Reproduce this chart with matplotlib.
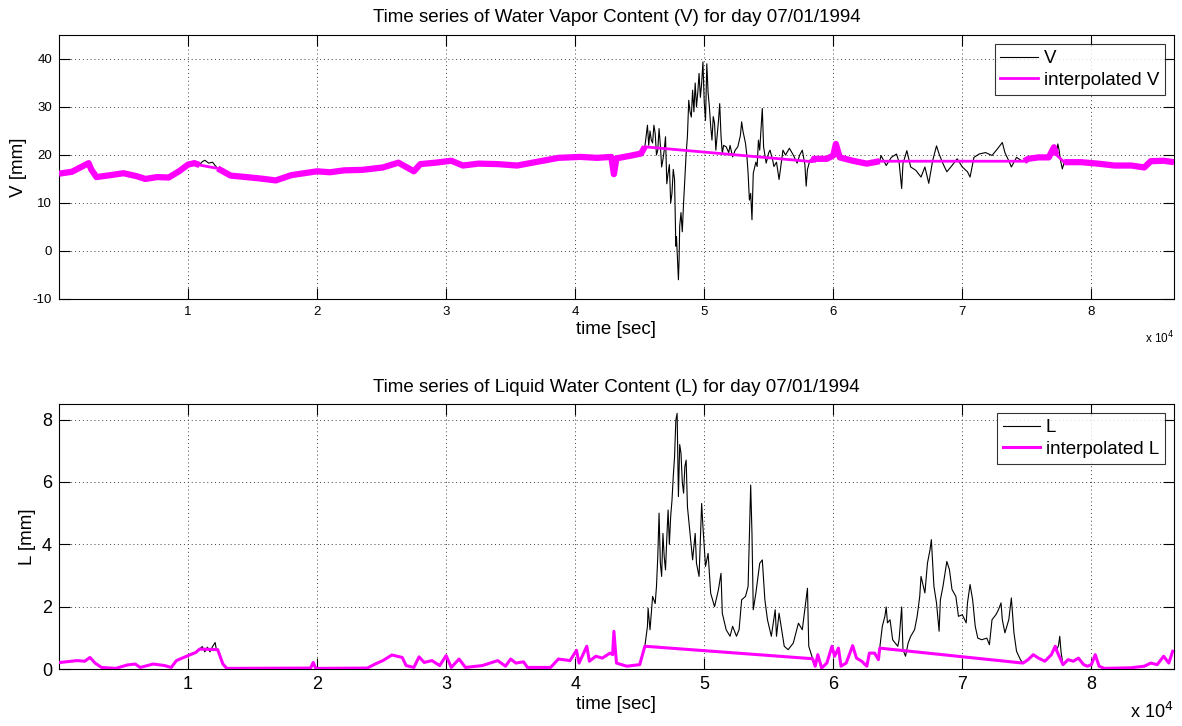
import numpy as np
import matplotlib
matplotlib.use("Agg")
import matplotlib.pyplot as plt
from matplotlib.ticker import FixedLocator, FuncFormatter

plt.rcParams['font.family'] = ['Liberation Sans', 'DejaVu Sans']
plt.rcParams['axes.unicode_minus'] = False

# ---- Water vapour content V [mm]; time in thousands of seconds ----
t_V = [0.0, 1.0, 2.3, 2.5, 2.9, 4.0, 5.0, 6.0, 6.7, 7.6, 8.5, 9.3, 10.0, 10.5, 10.9,
       11.1, 11.3, 11.6, 11.9, 12.1, 12.3,
       13.3, 14.5, 15.6, 16.8, 18.0, 19.0, 20.0, 21.0, 22.1, 23.5, 25.1, 26.3, 27.5,
       28.0, 29.2, 30.4, 31.3, 32.5, 34.0, 35.5, 36.9, 38.7, 40.4, 41.7, 42.8, 43.0,
       43.2, 44.2, 45.1,
       45.4, 45.5, 45.6, 45.7, 45.8, 45.9, 46.0, 46.1, 46.2, 46.3,
       46.4, 46.5, 46.6, 46.7, 46.8, 46.9, 47.0, 47.1, 47.2, 47.3,
       47.4, 47.5, 47.6, 47.7, 47.75, 47.8, 47.85, 47.9, 48.0, 48.05,
       48.1, 48.2, 48.3, 48.4, 48.5, 48.6, 48.7, 48.8, 48.9, 49.0,
       49.1, 49.2, 49.3, 49.4, 49.5, 49.6, 49.7, 49.8, 49.9, 50.0,
       50.1, 50.2, 50.3, 50.4, 50.5, 50.6, 50.7, 50.8, 50.9, 51.0,
       51.1, 51.2, 51.3, 51.4, 51.5, 51.7, 51.9, 52.0, 52.2, 52.4,
       52.6, 52.8, 52.9, 53.0, 53.2, 53.3, 53.4, 53.5, 53.6, 53.7,
       53.8, 54.0, 54.1, 54.2, 54.3, 54.4, 54.5, 54.6, 54.7, 54.8,
       55.0, 55.1, 55.3, 55.4, 55.6, 55.8, 56.0, 56.1, 56.3, 56.6,
       56.9, 57.2, 57.4, 57.6, 57.8, 57.9, 58.0, 58.2,
       58.4, 58.5, 59.5, 60.0, 60.2, 60.5, 61.5, 62.6, 63.6,
       63.7, 64.1, 64.5, 64.9, 65.1, 65.3, 65.4, 65.7, 66.0, 66.4, 66.8, 67.1, 67.4,
       67.7, 68.0, 68.2, 68.5, 68.8, 69.2, 69.6, 70.0, 70.4, 70.6, 70.9, 71.3, 71.8,
       72.3, 72.7, 73.1, 73.3, 73.6, 73.8, 74.2, 74.6,
       74.8, 75.1, 75.9, 76.7, 77.1, 77.3,
       77.4, 77.5, 77.6, 77.75,
       77.9, 79.2, 80.5, 81.8, 83.1, 84.1, 84.6, 85.6, 86.4]
V = [16.1, 16.5, 18.3, 17.0, 15.4, 15.8, 16.2, 15.6, 15.0, 15.4, 15.3, 16.6, 18.0, 18.3, 17.9,
     18.6, 18.9, 18.3, 18.5, 17.8, 17.2,
     15.7, 15.4, 15.1, 14.7, 15.8, 16.2, 16.6, 16.4, 16.8, 16.9, 17.4, 18.4, 16.6,
     18.1, 18.4, 18.8, 17.8, 18.2, 18.1, 17.8, 18.5, 19.4, 19.6, 19.4, 19.6, 16.0,
     19.3, 19.8, 20.3,
     21.7, 24.0, 26.2, 22.0, 25.0, 23.1, 22.5, 26.2, 24.5, 20.0,
     21.0, 25.5, 22.0, 17.5, 19.0, 21.0, 23.8, 14.0, 16.2, 18.0,
     10.0, 12.0, 17.0, 14.9, 8.0, 1.0, 3.0, 0.0, -6.0, -2.0,
     5.2, 8.0, 4.0, 10.0, 15.0, 20.3, 24.0, 31.4, 29.0, 27.9,
     33.5, 29.0, 35.0, 30.0, 33.0, 37.0, 32.0, 34.9, 39.4, 31.0,
     27.2, 39.0, 33.0, 30.0, 26.0, 23.1, 28.0, 26.6, 21.0, 24.0,
     27.0, 30.7, 24.0, 20.3, 22.0, 21.7, 20.5, 22.0, 19.6, 21.0,
     21.7, 24.0, 26.9, 25.0, 22.4, 20.0, 16.2, 10.6, 12.0, 6.5,
     16.2, 18.5, 17.6, 23.1, 21.0, 25.5, 29.7, 21.7, 20.0, 18.3,
     20.5, 21.0, 19.0, 17.6, 18.5, 14.9, 19.0, 21.0, 20.0, 21.4,
     20.0, 18.3, 20.0, 21.0, 18.0, 13.5, 17.0, 19.0,
     18.6, 19.2, 19.2, 19.9, 22.3, 19.5, 18.8, 18.2, 18.7,
     19.9, 17.8, 19.5, 20.2, 18.5, 13.0, 18.2, 20.9, 17.5, 16.8, 15.4, 17.5, 14.1,
     18.8, 21.9, 20.2, 18.2, 16.5, 17.8, 19.2, 17.5, 16.5, 15.4, 19.5, 20.2, 20.5,
     19.9, 21.2, 22.6, 20.5, 18.8, 17.5, 19.5, 18.8,
     18.7, 19.2, 19.5, 19.5, 21.6, 20.0,
     22.3, 21.0, 19.0, 17.1,
     18.5, 18.5, 18.2, 17.8, 17.8, 17.4, 18.7, 18.8, 18.5]
V_gaps = [(10.9, 12.3), (45.4, 58.4), (63.6, 74.8), (77.3, 77.9)]

# ---- Liquid water content L [mm]; time in thousands of seconds ----
t_L = [0.1, 1.4, 2.0, 2.4, 2.8, 3.3, 4.4, 5.3, 5.9, 6.3, 7.3, 8.2, 8.7, 9.1, 10.0, 10.6, 10.9,
       11.1, 11.3, 11.5, 11.7, 11.9, 12.1, 12.2, 12.3,
       12.7, 13.0, 19.5, 19.7, 19.9, 23.9, 24.5, 25.1, 25.8, 26.6, 26.9, 27.5, 27.9,
       28.3, 28.9, 29.5, 30.0, 30.4, 31.0, 31.5, 32.8, 34.0, 34.6, 35.0, 35.4, 36.0,
       36.3, 38.1, 38.7, 39.6, 40.1, 40.3, 40.9, 41.1, 41.6, 42.1, 42.7, 42.9, 43.0,
       43.2, 44.0, 45.0, 45.4,
       45.6, 45.65, 45.8, 46.0, 46.2, 46.3, 46.4, 46.5, 46.6, 46.7,
       46.8, 46.9, 47.0, 47.1, 47.2, 47.3, 47.4, 47.5, 47.6, 47.7,
       47.8, 47.9, 48.0, 48.1, 48.2, 48.3, 48.4, 48.5, 48.6, 48.7,
       48.9, 49.1, 49.3, 49.4, 49.6, 49.8, 49.9,
       50.1, 50.3, 50.5, 50.8, 51.1, 51.3, 51.4, 51.7, 52.0, 52.2, 52.5, 52.7, 52.9,
       53.2, 53.4, 53.6, 53.7, 53.8, 54.0, 54.3, 54.5, 54.7, 54.9, 55.2, 55.5, 55.6,
       55.8, 56.2, 56.5, 56.9, 57.3, 57.6, 58.0, 58.1,
       58.4, 58.6, 58.8, 59.1, 59.5, 59.9, 60.1, 60.4, 60.6, 61.0, 61.5, 61.8, 62.2,
       62.6, 62.8, 63.2, 63.5, 63.6,
       63.8, 64.0, 64.1, 64.2, 64.4, 64.6, 64.8, 65.0, 65.1, 65.3, 65.4, 65.6, 65.8,
       66.0, 66.3, 66.5, 66.7, 66.8, 67.1, 67.3, 67.5, 67.6, 67.8, 68.0, 68.2, 68.3,
       68.5, 68.8, 69.0, 69.2, 69.5, 69.7, 70.0, 70.3, 70.4, 70.6, 70.8, 71.0, 71.2,
       71.5, 71.9, 72.1, 72.3, 72.6, 72.8, 73.0, 73.1, 73.3, 73.6, 73.8, 74.0, 74.2,
       74.5,
       74.7, 75.1, 75.5, 75.9, 76.4, 76.9, 77.2, 77.3,
       77.45, 77.55, 77.65,
       77.8, 78.2, 78.6, 79.0, 79.4, 79.7, 80.0, 80.3, 80.6, 81.0, 83.1, 84.1, 84.6,
       85.1, 85.6, 86.0, 86.3]
L = [0.21, 0.27, 0.25, 0.37, 0.19, 0.05, 0.02, 0.13, 0.16, 0.05, 0.16, 0.11, 0.05, 0.27, 0.43, 0.53, 0.64,
     0.72, 0.55, 0.70, 0.55, 0.72, 0.85, 0.62, 0.62,
     0.16, 0.02, 0.03, 0.21, 0.02, 0.03, 0.16, 0.27, 0.45, 0.37, 0.11, 0.05, 0.39,
     0.21, 0.27, 0.11, 0.43, 0.05, 0.32, 0.05, 0.11, 0.27, 0.09, 0.32, 0.19, 0.23,
     0.05, 0.05, 0.32, 0.27, 0.60, 0.19, 0.73, 0.25, 0.41, 0.35, 0.51, 0.46, 1.21,
     0.19, 0.09, 0.14, 0.73,
     1.37, 1.95, 1.26, 2.33, 2.10, 2.65, 3.60, 5.00, 3.40, 2.97,
     4.35, 3.60, 3.18, 4.20, 5.10, 4.00, 4.89, 5.40, 6.17, 6.80,
     7.98, 8.20, 5.53, 7.20, 6.92, 6.00, 5.64, 6.50, 6.70, 5.20,
     4.35, 3.50, 4.35, 3.39, 2.97, 5.31, 4.57,
     3.29, 3.71, 2.43, 2.0, 2.54, 3.07, 1.79, 1.26, 1.05, 1.37, 1.05, 1.26, 2.22,
     2.33, 2.65, 5.9, 4.35, 1.9, 2.43, 3.39, 3.5, 2.22, 1.58, 1.05, 1.9, 1.05,
     1.79, 0.73, 0.62, 0.83, 1.47, 1.26, 2.59, 0.73,
     0.33, 0.09, 0.46, 0.03, 0.19, 0.73, 0.41, 0.67, 0.09, 0.19, 0.75, 0.35, 0.25,
     0.09, 0.51, 0.51, 0.30, 0.67,
     1.37, 1.69, 1.99, 1.48, 1.58, 0.94, 0.83, 0.73, 0.94, 1.99, 0.62, 0.41, 0.83,
     1.05, 1.26, 1.69, 2.33, 2.97, 2.44, 3.4, 3.83, 4.15, 2.65, 2.12, 1.21, 2.22,
     2.65, 3.45, 3.19, 2.55, 2.33, 1.69, 1.74, 1.48, 2.12, 2.71, 2.22, 1.37, 0.99,
     0.94, 0.99, 0.78, 1.58, 1.74, 1.9, 2.12, 1.58, 1.16, 1.58, 2.28, 1.16, 0.57,
     0.30,
     0.19, 0.30, 0.46, 0.35, 0.25, 0.46, 0.73, 0.60,
     0.75, 1.05, 0.55,
     0.14, 0.30, 0.25, 0.35, 0.14, 0.09, 0.14, 0.46, 0.09, 0.02, 0.04, 0.09, 0.19,
     0.14, 0.41, 0.19, 0.57]
L_gaps = [(10.9, 12.3), (45.4, 58.4), (63.6, 74.7), (77.3, 77.8)]

x_ticks = [10000, 20000, 30000, 40000, 50000, 60000, 70000, 80000]
V_ticks = [-10, 0, 10, 20, 30, 40]
L_ticks = [0, 2, 4, 6, 8]
DAY_END = 86400


def interpolate_gaps(t, y, gaps):
    """Drop samples inside the gaps; the line then bridges them linearly."""
    t = np.asarray(t) * 1e3
    y = np.asarray(y, float)
    bad = np.zeros(t.size, bool)
    for a, b in gaps:
        bad |= (t > a * 1e3) & (t < b * 1e3)
    return t, y, t[~bad], y[~bad]


def measured_runs(ti, gaps):
    """Index ranges of the interpolated series that do not cross a gap."""
    cuts = [0]
    for i in range(1, ti.size):
        for a, b in gaps:
            if ti[i - 1] <= a * 1e3 and ti[i] >= b * 1e3:
                cuts.append(i)
    cuts.append(ti.size)
    return [(cuts[k], cuts[k + 1]) for k in range(len(cuts) - 1)]


fig = plt.figure(figsize=(11.82, 7.26), dpi=100)
ax1 = fig.add_axes([0.0499, 0.5882, 0.9433, 0.3636])
ax2 = fig.add_axes([0.0499, 0.0785, 0.9433, 0.3650])

mag = '#ff00ff'

# upper panel: water vapour
tv, vv, tvi, vvi = interpolate_gaps(t_V, V, V_gaps)
ax1.plot(tv, vv, color='black', lw=0.8, label='V', zorder=2)
ax1.plot(tvi, vvi, color=mag, lw=2.0, label='interpolated V', zorder=3)
for s, e in measured_runs(tvi, V_gaps):
    ax1.plot(tvi[s:e], vvi[s:e], color=mag, lw=4.5, solid_capstyle='butt',
             solid_joinstyle='round', zorder=3)

# lower panel: liquid water
tl, ll, tli, lli = interpolate_gaps(t_L, L, L_gaps)
ax2.plot(tl, ll, color='black', lw=0.8, label='L', zorder=2)
ax2.plot(tli, lli, color=mag, lw=2.2, label='interpolated L', zorder=3)

fmt = FuncFormatter(lambda x, _: f"{x / 1e4:g}")
for ax, yt, ylim, tick_fs, lab_fs, off_fs in (
        (ax1, V_ticks, (-10, 45), 9.5, 13.5, 8.5),
        (ax2, L_ticks, (0, 8.5), 13, 13.5, 13)):
    ax.set_xlim(0, DAY_END)
    ax.set_ylim(*ylim)
    ax.xaxis.set_major_locator(FixedLocator(x_ticks))
    ax.xaxis.set_major_formatter(fmt)
    ax.yaxis.set_major_locator(FixedLocator(yt))
    ax.tick_params(direction='in', length=8, width=0.8, top=True, right=True,
                   labelsize=tick_fs, pad=5)
    ax.grid(True, color='0.25', linestyle=(0, (1, 3)), linewidth=0.7)
    for sp in ax.spines.values():
        sp.set_linewidth(0.8)
    ax.set_xlabel('time [sec]', fontsize=lab_fs, labelpad=2)
    ax.text(1.0, -0.115 if ax is ax1 else -0.125, 'x 10$^4$', transform=ax.transAxes,
            ha='right', va='top', fontsize=off_fs)
    leg = ax.legend(loc='upper right', fontsize=13.5, frameon=True, fancybox=False,
                    edgecolor='black', borderaxespad=0.5, handlelength=2.0,
                    handletextpad=0.3, borderpad=0.3, labelspacing=0.25)
    leg.get_frame().set_linewidth(0.8)

ax1.set_ylabel('V [mm]', fontsize=13.5, labelpad=4)
ax2.set_ylabel('L [mm]', fontsize=13.5, labelpad=4)
ax1.set_title('Time series of Water Vapor Content (V) for day 07/01/1994',
              fontsize=13.5, pad=9)
ax2.set_title('Time series of Liquid Water Content (L) for day 07/01/1994',
              fontsize=13.5, pad=9)

fig.savefig('out.png', dpi=100)
